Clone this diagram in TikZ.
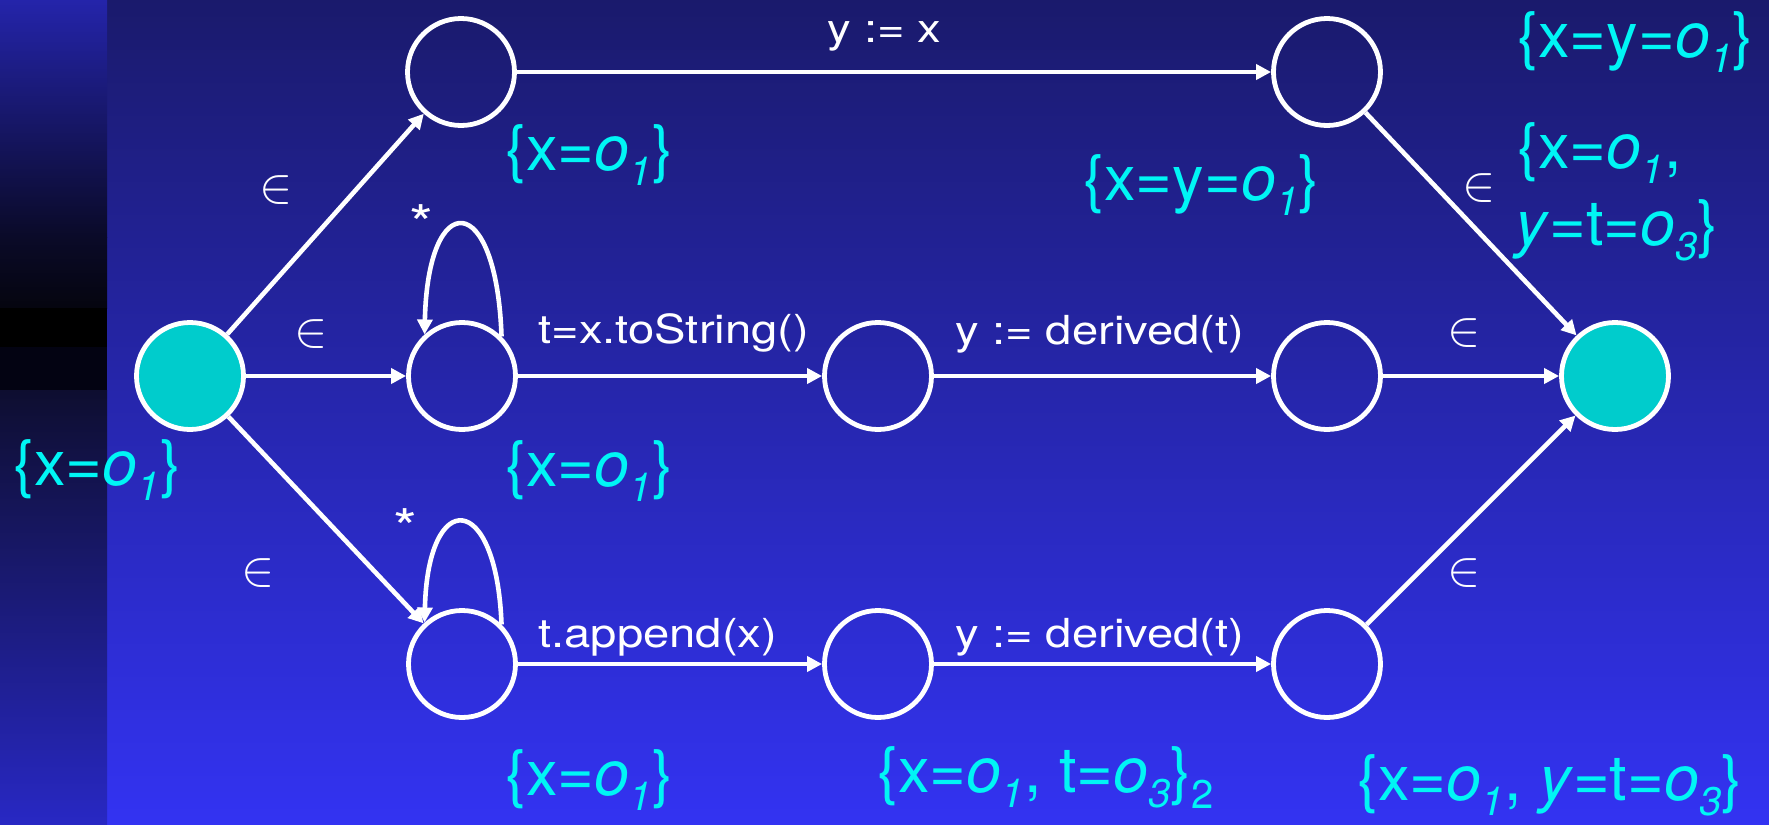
\documentclass[tikz,border=0pt]{standalone}
\usepackage{fontspec}
\setmainfont{TeX Gyre Heros}
\newfontfamily\wfont[FakeStretch=1.18]{TeX Gyre Heros}
\usetikzlibrary{arrows.meta}
\definecolor{cy}{HTML}{00F5F5}
\definecolor{nodefill}{HTML}{00CCCC}
\definecolor{bgtop}{HTML}{1A1A6C}
\definecolor{bgmid}{HTML}{2626B6}
\definecolor{bgbot}{HTML}{3333F2}
\definecolor{stripA}{HTML}{2424AA}
\definecolor{stripB}{HTML}{0A0A28}
\definecolor{stripC}{HTML}{05050F}
\definecolor{stripD}{HTML}{030312}
\definecolor{stripE}{HTML}{0E0E30}
\definecolor{stripF}{HTML}{2828C4}
\newcommand\ob[1]{\textit{o}\raisebox{-7.5pt}[\height][0pt]{\fontsize{20pt}{22pt}\selectfont\textit{#1}}}
\newcommand\subup[1]{\raisebox{-8pt}[\height][0pt]{\fontsize{20pt}{22pt}\selectfont #1}}
\begin{document}
\begin{tikzpicture}[x=0.5pt,y=-0.5pt,
  state/.style={circle,draw=white,line width=2.4pt,minimum size=53.5pt,inner sep=0pt},
  fillstate/.style={state,fill=nodefill},
  edge/.style={draw=white,line width=2.3pt,-{Triangle[length=7.5pt,width=7.5pt]}},
  wlab/.style={font=\wfont\fontsize{20pt}{24pt}\selectfont,text=white,inner sep=0pt,anchor=base west},
  starlab/.style={font=\wfont\fontsize{26pt}{28pt}\selectfont,text=white,inner sep=0pt},
  elab/.style={font=\fontsize{23pt}{23pt}\selectfont,text=white,inner sep=0pt},
  clab/.style={font=\fontsize{31.5pt}{36pt}\selectfont,text=cy,inner sep=0pt,anchor=base west}]
% background
\useasboundingbox (0,0) rectangle (1769,825);
\shade[top color=bgtop,middle color=bgmid,bottom color=bgbot] (107,0) rectangle (1769,825);
\shade[top color=stripA,bottom color=stripB] (0,0) rectangle (107,237);
\shade[top color=stripB,bottom color=stripC] (0,237) rectangle (107,308);
\fill[black] (0,308) rectangle (107,347);
\fill[stripD] (0,347) rectangle (107,390);
\shade[top color=stripE,bottom color=stripF] (0,390) rectangle (107,825);
% states
\node[fillstate] (s) at (190,376) {};
\node[state] (A) at (461,72) {};
\node[state] (B) at (462,376) {};
\node[state] (C) at (462,664) {};
\node[state] (D) at (878,376) {};
\node[state] (H) at (878,664) {};
\node[state] (E) at (1327,72) {};
\node[state] (F) at (1327,376) {};
\node[state] (G) at (1327,664) {};
\node[fillstate] (t) at (1615,376) {};
% edges
\draw[edge] (s) -- (A);
\draw[edge] (s) -- (B);
\draw[edge] (s) -- (C);
\draw[edge] (A) -- (E);
\draw[edge] (B) -- (D);
\draw[edge] (D) -- (F);
\draw[edge] (C) -- (H);
\draw[edge] (H) -- (G);
\draw[edge] (E) -- (t);
\draw[edge] (F) -- (t);
\draw[edge] (G) -- (t);
\draw[edge] (B.45) .. controls +(-5,-148) and +(3,-147) .. (B.132);
\draw[edge] (C.45) .. controls +(-5,-135) and +(3,-135) .. (C.132);
% white labels
\node[wlab] (lyx) at (827,42) {y := x};
\node[wlab] (lts) at (538,343) {t=x.toString()};
\node[wlab] (ld1) at (955,344) {y := derived(t)};
\node[wlab] (lap) at (538,647) {t.append(x)};
\node[wlab] (ld2) at (955,647) {y := derived(t)};
\node[starlab] (st1) at (421,224) {*};
\node[starlab] (st2) at (405,528) {*};
% epsilon-like labels
\node[elab] (e1) at (276,190) {$\in$};
\node[elab] (e2) at (311,334) {$\in$};
\node[elab] (e3) at (258,573) {$\in$};
\node[elab] (e4) at (1479,188) {$\in$};
\node[elab] (e5) at (1464,333) {$\in$};
\node[elab] (e6) at (1464,573) {$\in$};
% cyan labels
\node[clab] (c0) at (13,485) {\{x=\ob{1}\}};
\node[clab] (c1) at (505,170) {\{x=\ob{1}\}};
\node[clab] (c2) at (505,486) {\{x=\ob{1}\}};
\node[clab] (c3) at (505,795) {\{x=\ob{1}\}};
\node[clab] (c4) at (1083,200) {\{x=y=\ob{1}\}};
\node[clab] (c5) at (1517,57) {\{x=y=\ob{1}\}};
\node[clab] (c6) at (1517,168) {\{x=\ob{1},};
\node[clab] (c7) at (1515,245) {\textit{y}=t=\ob{3}\}};
\node[clab] (c8) at (877,792) {\{x=\ob{1}, t=\ob{3}\}\subup{2}};
\node[clab] (c9) at (1357,800) {\{x=\ob{1}, \textit{y}=t=\ob{3}\}};
\end{tikzpicture}
\end{document}
